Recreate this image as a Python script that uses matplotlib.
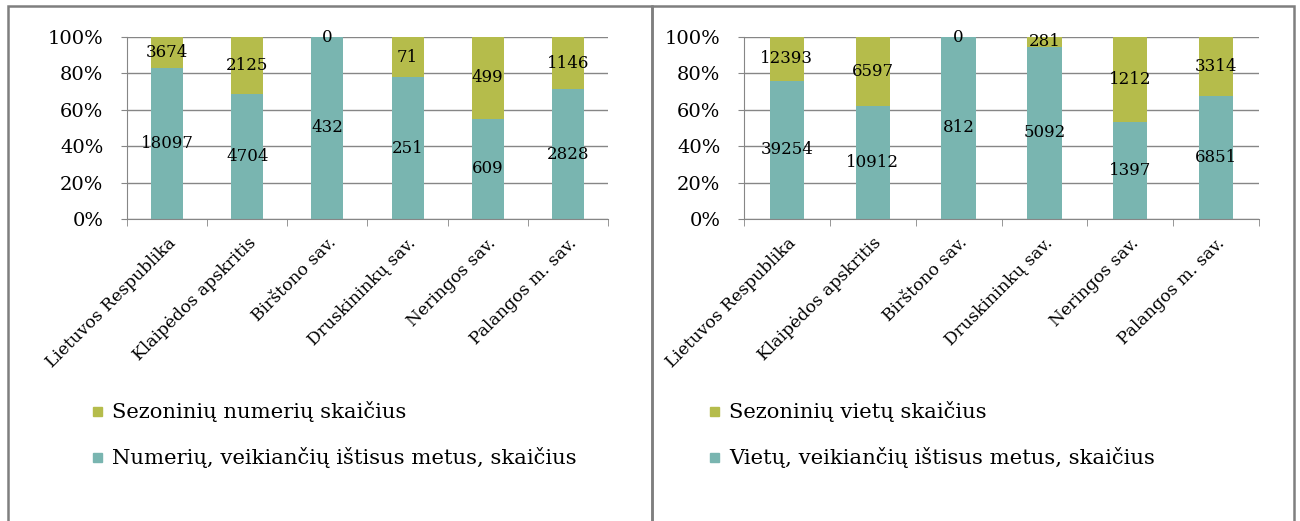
import numpy as np
import matplotlib
matplotlib.use('Agg')
import matplotlib.pyplot as plt
import matplotlib.transforms as mtrans
from matplotlib.patches import Rectangle

plt.rcParams['font.family'] = ['DejaVu Serif']

categories = ['Lietuvos Respublika', 'Klaipėdos apskritis', 'Birštono sav.',
              'Druskininkų sav.', 'Neringos sav.', 'Palangos m. sav.']

# left panel: rooms
rooms_year = [18097, 4704, 432, 251, 609, 2828]
rooms_season = [3674, 2125, 0, 71, 499, 1146]
# right panel: beds
beds_year = [39254, 10912, 812, 5092, 1397, 6851]
beds_season = [12393, 6597, 0, 281, 1212, 3314]

legend_left = ['Sezoninių numerių skaičius',
               'Numerių, veikiančių ištisus metus, skaičius']
legend_right = ['Sezoninių vietų skaičius',
                'Vietų, veikiančių ištisus metus, skaičius']

c_teal = '#79b5b0'
c_olive = '#b5bc4b'
c_grid = '#868686'

W, H = 1300, 521
fig = plt.figure(figsize=(W / 100, H / 100), dpi=100)

# panel borders
for x0, x1 in [(8, 652), (652, 1294)]:
    fig.patches.append(Rectangle((x0 / W, -0.1), (x1 - x0) / W, (H - 6) / H + 0.1,
                                 transform=fig.transFigure, fill=False,
                                 ec='#7f7f7f', lw=1.8))


def panel(left, right, year, season, labels):
    ax = fig.add_axes([left / W, (H - 219) / H, (right - left) / W, 182 / H])
    year = np.array(year, float)
    season = np.array(season, float)
    tot = year + season
    py = year / tot * 100
    ps = season / tot * 100
    x = np.arange(len(categories))
    ax.bar(x, py, width=0.4, color=c_teal, zorder=2)
    ax.bar(x, ps, width=0.4, bottom=py, color=c_olive, zorder=2)
    for i in x:
        ax.text(i, py[i] / 2, '%d' % year[i], ha='center', va='center',
                fontsize=12, zorder=3)
        ax.text(i, py[i] + ps[i] / 2, '%d' % season[i], ha='center',
                va='center', fontsize=12, zorder=3)
    ax.set_xlim(-0.5, len(categories) - 0.5)
    ax.set_ylim(0, 100)
    ax.set_yticks(np.arange(0, 101, 20))
    ax.set_yticklabels(['%d%%' % v for v in range(0, 101, 20)], fontsize=14)
    ax.grid(axis='y', color=c_grid, lw=1, zorder=0)
    ax.set_xticks(x)
    ax.set_xticklabels(categories, rotation=45, ha='right',
                       rotation_mode='anchor', fontsize=12.3)
    shift = mtrans.ScaledTranslation(-6 / 100, 0, fig.dpi_scale_trans)
    for lab in ax.get_xticklabels():
        lab.set_transform(lab.get_transform() + shift)
    ax.set_xticks(np.arange(-0.5, len(categories)), minor=True)
    ax.tick_params(axis='x', which='major', length=0, pad=11)
    ax.tick_params(axis='x', which='minor', length=5, color=c_grid)
    ax.tick_params(axis='y', length=4, color=c_grid, pad=13)
    for s in ['top', 'right']:
        ax.spines[s].set_visible(False)
    for s in ['left', 'bottom']:
        ax.spines[s].set_color(c_grid)
    # legend
    y0 = 411
    for k, (lab, col) in enumerate(zip(labels, [c_olive, c_teal])):
        yy = (H - (y0 + 46 * k)) / H
        fig.patches.append(Rectangle(((left - 34) / W, yy - 4.5 / H), 9 / W, 9 / H,
                                     transform=fig.transFigure, color=col))
        fig.text((left - 15) / W, yy, lab, fontsize=15.2, va='center')
    return ax


panel(127, 608, rooms_year, rooms_season, legend_left)
panel(744, 1259, beds_year, beds_season, legend_right)

fig.savefig('out.png', dpi=100)
